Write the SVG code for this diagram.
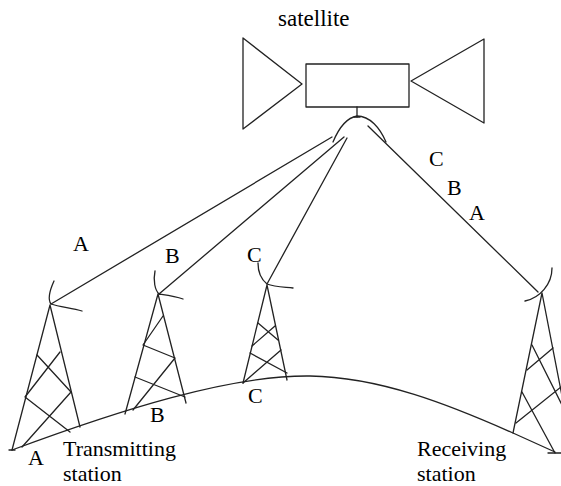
<svg xmlns="http://www.w3.org/2000/svg" width="561" height="486" viewBox="0 0 561 486">
<style>
.s{fill:none;stroke:#222;stroke-width:1.3;stroke-linecap:round;stroke-linejoin:round}
text{font-family:"Liberation Serif","Times New Roman",serif;font-size:22px;fill:#000}
</style>
<rect width="561" height="486" fill="#fff"/>
<g id="satellite" class="s">
<rect x="306" y="64" width="103" height="43"/>
<polygon points="243,38 243,129 302,84"/>
<polygon points="484,39 484,123 411,81"/>
<line x1="357" y1="107" x2="357" y2="117"/>
<line x1="354" y1="117" x2="360" y2="117"/>
<path d="M333,142 C338,130 345,118 357,116 C370,116 380,128 386,142"/>
</g>
<g id="ground" class="s">
<path d="M12,450 C120,410 230,375 310,376 C380,377 450,405 513,433 L555,452"/>
<line x1="9" y1="450" x2="15" y2="450"/>
<line x1="548" y1="453" x2="561" y2="453"/>
</g>
<g id="towerA" class="s">
<path d="M54,281 C49,292 48,300 51,304 C60,307 72,308 82,311"/>
<path d="M12,450 L50,305 L80,427"/>
<path d="M37,355 L71,392 M60,352 L25,397 M25,397 L70,432 M71,392 L22,447"/>
</g>
<g id="towerB" class="s">
<path d="M155,271 C153,281 155,290 159,294 C166,295 175,296 183,299"/>
<path d="M125,414 L158,294 L186,403"/>
<path d="M163,316 L143,345 M143,345 L175,358 M175,358 L133,410 M135,377 L185,397"/>
</g>
<g id="towerC" class="s">
<path d="M258,263 C258,273 262,280 267,284 C275,287 285,287 293,288"/>
<path d="M243,383 L267,285 L287,380"/>
<path d="M258,323 L278,340 M275,326 L252,346 M250,353 L287,373 M281,350 L243,383"/>
</g>
<g id="receiver" class="s">
<path d="M552,268 C552,284 540,298 525,301"/>
<path d="M513,433 L542,293 L562,396"/>
<path d="M532,345 L562,405 M553,348 L527,370 M522,392 L555,453 M561,387 L516,423"/>
</g>
<g id="connectors" class="s">
<line x1="51" y1="304" x2="332" y2="137"/>
<line x1="159" y1="294" x2="344" y2="137"/>
<line x1="267" y1="284" x2="347" y2="138"/>
<line x1="368" y1="126" x2="538" y2="292"/>
</g>
<g id="labels">
<text x="278" y="26" style="font-size:23px">satellite</text>
<text x="73" y="251">A</text>
<text x="165" y="263">B</text>
<text x="247" y="262">C</text>
<text x="429" y="166">C</text>
<text x="447" y="195">B</text>
<text x="469" y="220">A</text>
<text x="28" y="465">A</text>
<text x="150" y="422">B</text>
<text x="248" y="403">C</text>
<text x="63" y="456"><tspan x="63" y="456">Transmitting</tspan><tspan x="63" y="481">station</tspan></text>
<text x="417" y="455.5"><tspan x="417" y="455.5">Receiving</tspan><tspan x="417" y="481">station</tspan></text>
</g>
</svg>
